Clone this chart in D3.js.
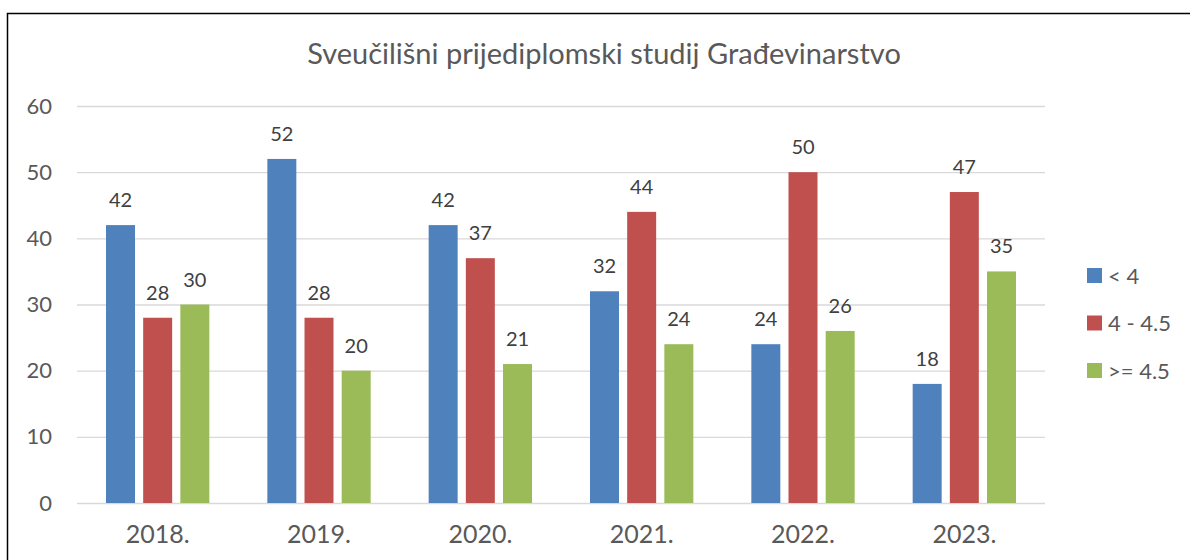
<!DOCTYPE html>
<html>
<head>
<meta charset="utf-8">
<script src="https://cdn.jsdelivr.net/npm/d3@7"></script>
<style>
  body { margin: 0; background: #fff; }
  text { font-family: Lato, "Liberation Sans", sans-serif; fill: #595959; }
</style>
</head>
<body>
<div id="chart"></div>
<script>
// data
const years = ["2018.", "2019.", "2020.", "2021.", "2022.", "2023."];
const seriesNames = ["< 4", "4 - 4.5", ">= 4.5"];
const below4 = [42, 52, 42, 32, 24, 18];
const mid = [28, 28, 37, 44, 50, 47];
const above45 = [30, 20, 21, 24, 26, 35];
const yTicks = [0, 10, 20, 30, 40, 50, 60];
const colors = ["#4f81bd", "#c0504d", "#9bbb59"];

const W = 1190, H = 560;
const margin = {top: 106, right: 145, bottom: 57, left: 77},
  width = W - margin.left - margin.right,
  height = H - margin.top - margin.bottom;

const svg = d3.select("#chart").append("svg")
  .attr("width", W).attr("height", H);

// outer frame
svg.append("rect")
  .attr("x", 7.5).attr("y", 13.5)
  .attr("width", W).attr("height", H)
  .attr("fill", "none").attr("stroke", "#000").attr("stroke-width", 1.5);

const g = svg.append("g").attr("transform", `translate(${margin.left},${margin.top})`);

const x = d3.scaleBand().domain(years).range([0, width]);
const x1 = d3.scaleBand().domain(d3.range(3)).range([29, x.bandwidth() - 29]).paddingInner(0.22);
const y = d3.scaleLinear().domain([0, 60]).range([height, 0]);

// gridlines
g.append("g")
  .call(d3.axisLeft(y).tickValues(yTicks).tickSize(-width).tickFormat(""))
  .call(a => a.select(".domain").remove())
  .call(a => a.selectAll("line").attr("stroke", "#d9d9d9").attr("stroke-width", 1.3));

// y labels
g.append("g")
  .call(d3.axisLeft(y).tickValues(yTicks).tickSize(0).tickPadding(25))
  .call(a => a.select(".domain").remove())
  .call(a => a.selectAll("text").style("font-size", "22px").attr("fill", "#595959"));

// x labels
g.append("g")
  .attr("transform", `translate(0,${height})`)
  .call(d3.axisBottom(x).tickSize(0).tickPadding(22))
  .call(a => a.select(".domain").remove())
  .call(a => a.selectAll("text").style("font-size", "25px").attr("fill", "#595959"));

const series = [below4, mid, above45];
const rows = [];
years.forEach((yr, i) => series.forEach((s, k) => rows.push({yr, k, v: s[i]})));

g.append("g").selectAll("rect")
  .data(rows).join("rect")
  .attr("x", d => x(d.yr) + x1(d.k))
  .attr("width", x1.bandwidth())
  .attr("y", d => y(d.v))
  .attr("height", d => height - y(d.v))
  .attr("fill", d => colors[d.k]);

g.append("g").selectAll("text")
  .data(rows).join("text")
  .attr("x", d => x(d.yr) + x1(d.k) + x1.bandwidth() / 2)
  .attr("y", d => y(d.v) - 18)
  .attr("text-anchor", "middle")
  .style("font-size", "20px")
  .style("fill", "#404040")
  .text(d => d.v);

// title
svg.append("text")
  .attr("x", 604).attr("y", 64)
  .attr("text-anchor", "middle")
  .style("font-size", "29px")
  .text("Sveučilišni prijediplomski studij Građevinarstvo");

// legend
const leg = svg.append("g").attr("transform", "translate(1087,268)");
seriesNames.forEach((n, i) => {
  const r = leg.append("g").attr("transform", `translate(0,${i * 47.5})`);
  r.append("rect").attr("width", 15).attr("height", 15).attr("fill", colors[i]);
  r.append("text").attr("x", 21).attr("y", 15.5).style("font-size", "22px").text(n);
});
</script>
</body>
</html>
